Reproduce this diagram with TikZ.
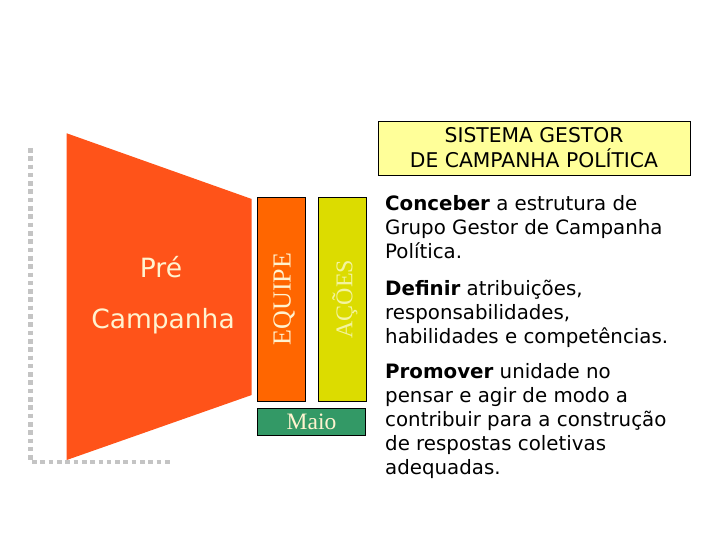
\documentclass[tikz,border=0pt]{standalone}
\usepackage{fontspec}
\setmainfont{DejaVu Sans}
\newfontfamily\timesf{Liberation Serif}
\newfontfamily\dvs{DejaVu Sans}
\definecolor{trapc}{HTML}{FF5319}
\definecolor{equipec}{HTML}{FF6600}
\definecolor{acoesc}{HTML}{DCDC00}
\definecolor{maioc}{HTML}{339966}
\definecolor{titlec}{HTML}{FFFF99}
\definecolor{creamc}{HTML}{FFF3D0}
\definecolor{creamy}{HTML}{F4F4A0}
\definecolor{dotc}{HTML}{C4C4C4}
\tikzset{
  colbox/.style={draw=black, line width=0.8pt},
  bodytext/.style={anchor=north west, inner sep=0pt, align=left, font=\dvs\fontsize{19.8}{24}\selectfont},
  dotline/.style={draw=dotc, line width=4.6pt, dash pattern=on 4.6pt off 3.7pt}
}
\begin{document}
\begin{tikzpicture}[x=1pt,y=-1pt]
\useasboundingbox (0,0) rectangle (720,540);
% dotted L
\coordinate (dt) at (30.7,148);
\coordinate (dc) at (30.7,462);
\coordinate (de) at (172,462);
\draw[dotline] (dt) -- (dc) -- (de);
% trapezoid
\coordinate (t1) at (66.7,133.3);
\coordinate (t2) at (251.7,199);
\coordinate (t3) at (251.7,395);
\coordinate (t4) at (66.7,460);
\fill[trapc] (t1) -- (t2) -- (t3) -- (t4) -- cycle;
\node[text=creamc, font=\dvs\fontsize{26.5}{30}\selectfont, anchor=base] (pre) at (161,277) {Pré};
\node[text=creamc, font=\dvs\fontsize{26.5}{30}\selectfont, anchor=base] (camp) at (163,328) {Campanha};
% columns
\node[colbox, fill=equipec, minimum width=48pt, minimum height=204pt, inner sep=0pt] (equipe) at (281,299) {};
\node[text=creamc, font=\timesf\fontsize{26}{30}\selectfont, rotate=90] (equipet) at (284,299) {EQUIPE};
\node[colbox, fill=acoesc, minimum width=48pt, minimum height=204pt, inner sep=0pt] (acoes) at (342,299) {};
\node[text=creamy, font=\timesf\fontsize{24}{28}\selectfont, rotate=90] (acoest) at (345,299) {AÇÕES};
\node[colbox, fill=maioc, minimum width=108pt, minimum height=27pt, inner sep=0pt, text=creamc, font=\timesf\fontsize{23.5}{26}\selectfont] (maio) at (311.5,422) {Maio};
% title
\node[draw=black, line width=0.6pt, fill=titlec, minimum width=312pt, minimum height=54pt, inner sep=0pt, align=center, font=\dvs\fontsize{20.3}{25}\selectfont] (title) at (534,148) {SISTEMA GESTOR\\DE CAMPANHA POLÍTICA};
% body
\node[bodytext] (p1) at (385,195) {\textbf{Conceber} a estrutura de\\Grupo Gestor de Campanha\\Política.};
\node[bodytext] (p2) at (385,280) {\textbf{Definir} atribuições,\\responsabilidades,\\habilidades e competências.};
\node[bodytext] (p3) at (385,363) {\textbf{Promover} unidade no\\pensar e agir de modo a\\contribuir para a construção\\de respostas coletivas\\adequadas.};
\end{tikzpicture}
\end{document}
